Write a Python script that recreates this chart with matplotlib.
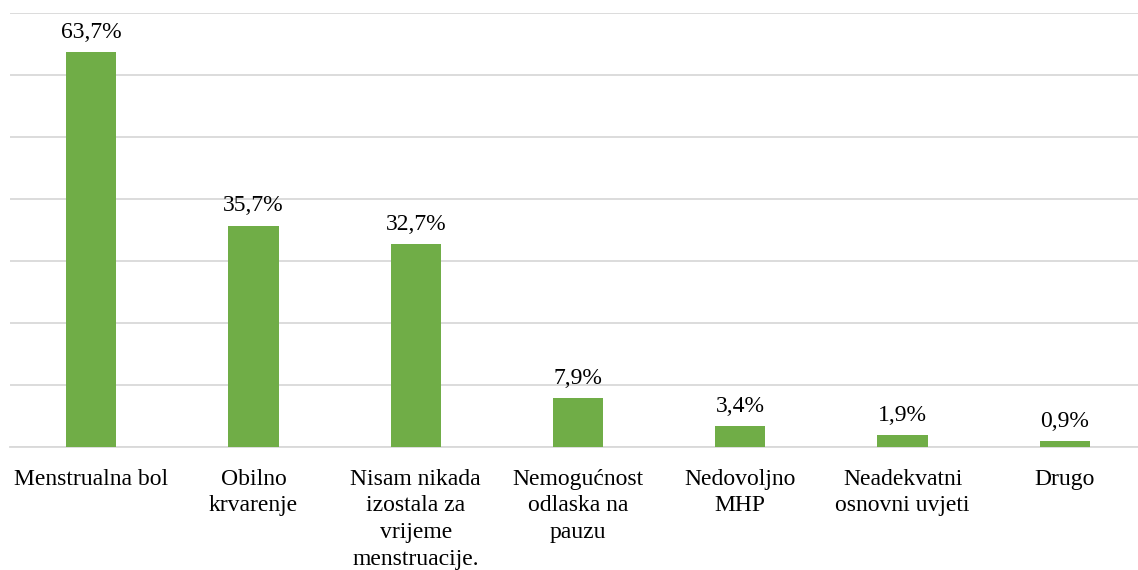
import matplotlib.pyplot as plt

categories = ["Menstrualna bol", "Obilno\nkrvarenje", "Nisam nikada\nizostala za\nvrijeme\nmenstruacije.",
              "Nemogućnost\nodlaska na\npauzu", "Nedovoljno\nMHP", "Neadekvatni\nosnovni uvjeti", "Drugo"]
values = [63.7, 35.7, 32.7, 7.9, 3.4, 1.9, 0.9]
labels = ["63,7%", "35,7%", "32,7%", "7,9%", "3,4%", "1,9%", "0,9%"]

plt.rcParams['font.family'] = ['Liberation Serif', 'DejaVu Serif']

fig = plt.figure(figsize=(11.38, 5.70), dpi=100)
ax = fig.add_axes([10 / 1138, 1 - 447 / 570, 1136 / 1138, (447 - 13) / 570])

x = range(len(values))
ax.bar(x, values, width=0.31, color='#70ad47', zorder=3)
for i, (v, lab) in enumerate(zip(values, labels)):
    ax.text(i, v + 1.5, lab, ha='center', va='bottom', fontsize=17, color='#000000')

ax.set_xlim(-0.5, len(values) - 0.5)
ax.set_ylim(0, 70)
ax.set_yticks(range(0, 71, 10))
ax.yaxis.grid(True, color='#d9d9d9', linewidth=1.3, zorder=0)
ax.tick_params(axis='y', left=False, labelleft=False)
ax.tick_params(axis='x', bottom=False, pad=12)
ax.set_xticks(list(x))
ax.set_xticklabels(categories, fontsize=17, linespacing=1.36, va='top')
for s in ['top', 'right', 'left']:
    ax.spines[s].set_visible(False)
ax.spines['bottom'].set_color('#d9d9d9')
ax.spines['bottom'].set_linewidth(1.3)

fig.savefig('out.png', dpi=100)
